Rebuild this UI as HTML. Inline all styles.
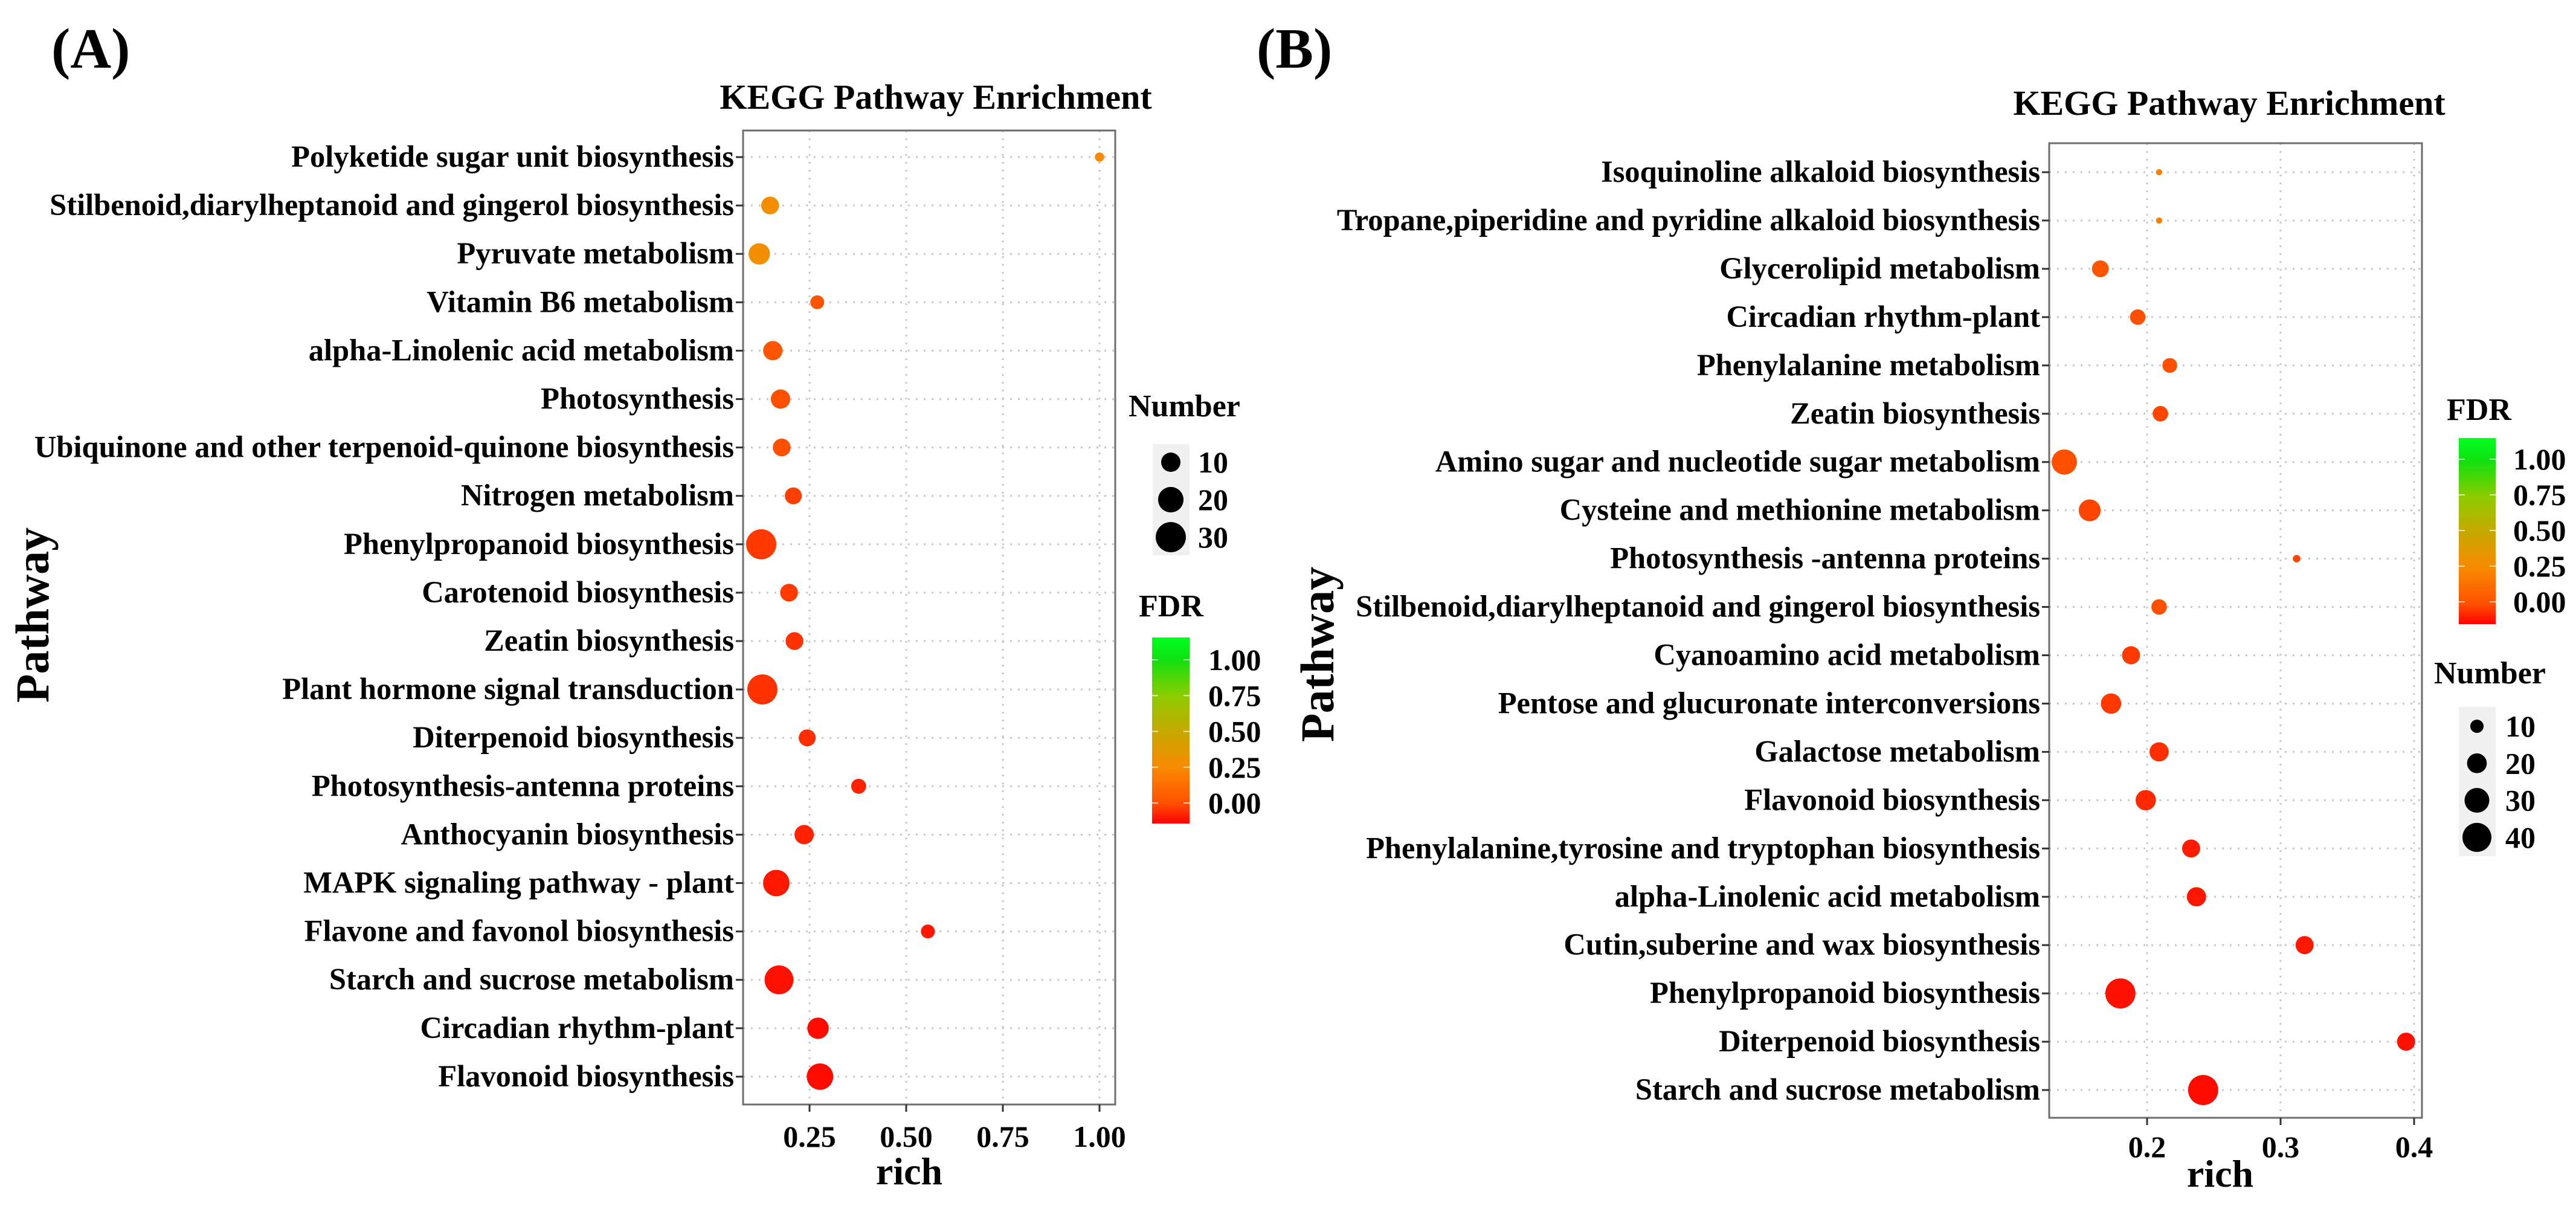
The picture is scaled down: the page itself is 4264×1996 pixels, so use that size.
<!DOCTYPE html>
<html><head><meta charset="utf-8"><style>
html,body{margin:0;padding:0;background:#fff;}
svg text{font-family:"Liberation Serif","Times New Roman",serif;font-weight:bold;fill:#000;}
</style></head><body>
<svg id="fig" xmlns="http://www.w3.org/2000/svg" width="4264" height="1991" viewBox="0 0 4264 1991">
<defs>
<linearGradient id="fdrGrad" x1="0" y1="1" x2="0" y2="0">
<stop offset="0" stop-color="#ff0000"/><stop offset="0.107" stop-color="#ff5000"/><stop offset="0.3" stop-color="#f88a00"/><stop offset="0.493" stop-color="#c8a800"/><stop offset="0.685" stop-color="#8ccc00"/><stop offset="0.88" stop-color="#10e010"/><stop offset="1" stop-color="#00ff20"/>
</linearGradient>
</defs>
<rect width="4264" height="1991" fill="#fff"/>
<text x="85" y="112" font-size="94">(A)</text>
<text x="2080" y="112" font-size="94">(B)</text>
<g id="panelA"></g>
<g id="panelB"></g>
</svg>
<script>
// ---- Panel A data ----
const catsA = ["Polyketide sugar unit biosynthesis","Stilbenoid,diarylheptanoid and gingerol biosynthesis","Pyruvate metabolism","Vitamin B6 metabolism","alpha-Linolenic acid metabolism","Photosynthesis","Ubiquinone and other terpenoid-quinone biosynthesis","Nitrogen metabolism","Phenylpropanoid biosynthesis","Carotenoid biosynthesis","Zeatin biosynthesis","Plant hormone signal transduction","Diterpenoid biosynthesis","Photosynthesis-antenna proteins","Anthocyanin biosynthesis","MAPK signaling pathway - plant","Flavone and favonol biosynthesis","Starch and sucrose metabolism","Circadian rhythm-plant","Flavonoid biosynthesis"];
const richA = [1.0,0.148,0.12,0.27,0.155,0.175,0.178,0.208,0.125,0.197,0.211,0.128,0.244,0.377,0.236,0.164,0.556,0.171,0.272,0.277];
const countA = [1,8,13,4,10,10,8,7,30,8,8,30,7,5,10,22,4,27,13,22];
const fdrA = [0.25,0.28,0.28,0.02,0.02,0.0,0.0,-0.03,-0.04,-0.04,-0.05,-0.05,-0.06,-0.08,-0.08,-0.1,-0.1,-0.11,-0.12,-0.12];
const xTicksA = [0.25,0.5,0.75,1.0];
const xTickLabelsA = ["0.25","0.50","0.75","1.00"];
const sizeKeyA = [10,20,30];
// ---- Panel B data ----
const catsB = ["Isoquinoline alkaloid biosynthesis","Tropane,piperidine and pyridine alkaloid biosynthesis","Glycerolipid metabolism","Circadian rhythm-plant","Phenylalanine metabolism","Zeatin biosynthesis","Amino sugar and nucleotide sugar metabolism","Cysteine and methionine metabolism","Photosynthesis -antenna proteins","Stilbenoid,diarylheptanoid and gingerol biosynthesis","Cyanoamino acid metabolism","Pentose and glucuronate interconversions","Galactose metabolism","Flavonoid biosynthesis","Phenylalanine,tyrosine and tryptophan biosynthesis","alpha-Linolenic acid metabolism","Cutin,suberine and wax biosynthesis","Phenylpropanoid biosynthesis","Diterpenoid biosynthesis","Starch and sucrose metabolism"];
const richB = [0.209,0.209,0.165,0.193,0.217,0.21,0.138,0.157,0.312,0.209,0.188,0.173,0.209,0.199,0.233,0.237,0.318,0.18,0.394,0.242];
const countB = [3,3,15,13,12,13,31,24,4,13,17,21,19,21,17,19,17,43,17,43];
const fdrB = [0.2,0.2,0.02,0.0,0.0,-0.02,0.0,-0.02,-0.02,0.0,-0.04,-0.04,-0.06,-0.07,-0.09,-0.1,-0.1,-0.11,-0.11,-0.12];
const xTicksB = [0.2,0.3,0.4];
const xTickLabelsB = ["0.2","0.3","0.4"];
const sizeKeyB = [10,20,30,40];
const fdrTicks = [0,0.25,0.5,0.75,1.0];
const fdrTickLabels = ["0.00","0.25","0.50","0.75","1.00"];

const NS = "http://www.w3.org/2000/svg";
function mk(parent, tag, attrs, txt){
  const e = document.createElementNS(NS, tag);
  for (const k in attrs) e.setAttribute(k, attrs[k]);
  if (txt !== undefined) e.textContent = txt;
  parent.appendChild(e); return e;
}
const stops = [[-0.14,[255,0,0]],[0,[255,80,0]],[0.25,[248,138,0]],[0.5,[200,168,0]],[0.75,[140,204,0]],[1.0,[16,224,16]],[1.15,[0,255,32]]];
function fdrColor(v){
  if (v <= stops[0][0]) return "rgb(255,0,0)";
  for (let i=1;i<stops.length;i++){
    if (v <= stops[i][0]){
      const a=stops[i-1], b=stops[i], t=(v-a[0])/(b[0]-a[0]);
      const c=a[1].map((x,j)=>Math.round(x+(b[1][j]-x)*t));
      return "rgb("+c.join(",")+")";
    }
  }
  return "rgb(0,255,32)";
}

function drawPanel(g, cfg){
  const {cats, rich, count, fdr, xTicks, xTickLabels, x0, x1, vx0, pxPerUnit, top, bottom, row0, rowStep, rFn} = cfg;
  const xs = v => x0 + (v - vx0) * pxPerUnit;
  const ys = i => row0 + i * rowStep;
  mk(g, "text", {x: cfg.titleX, y: cfg.titleY, "font-size": 58, "text-anchor": "middle",  }, "KEGG Pathway Enrichment");
  xTicks.forEach(t => {
    const l = mk(g, "line", {x1: xs(t), x2: xs(t), y1: top, y2: bottom, stroke: "#c8c8c8", "stroke-width": 3, "stroke-dasharray": "3 10"});
    
    
  });
  cats.forEach((c, i) => {
    const l = mk(g, "line", {x1: cfg.left, x2: cfg.right, y1: ys(i), y2: ys(i), stroke: "#c8c8c8", "stroke-width": 3, "stroke-dasharray": "3 10"});
    
    
  });
  const b = mk(g, "rect", {x: cfg.left, y: top, width: cfg.right - cfg.left, height: bottom - top, fill: "none", stroke: "#6e6e6e", "stroke-width": 3});
  
  
  cats.forEach((c, i) => {
    const tk = mk(g, "line", {x1: cfg.left - 12, x2: cfg.left, y1: ys(i), y2: ys(i), stroke: "#333", "stroke-width": 3});
    
    
    const t = mk(g, "text", {x: cfg.left - 15, y: ys(i) + 16, "font-size": 50.5, "text-anchor": "end"}, c);
    
    
  });
  xTicks.forEach((t, i) => {
    const tk = mk(g, "line", {x1: xs(t), x2: xs(t), y1: bottom, y2: bottom + 12, stroke: "#333", "stroke-width": 3});
    
    
    const tl = mk(g, "text", {x: xs(t), y: cfg.xLabelY, "font-size": 50, "text-anchor": "middle"}, xTickLabels[i]);
    
    
  });
  const xt = mk(g, "text", {x: cfg.xTitleX, y: cfg.xTitleY, "font-size": 64, "text-anchor": "middle"}, "rich");
  
  
  const yt = mk(g, "text", {x: 0, y: 0, "font-size": 78, "text-anchor": "middle", transform: "translate(" + cfg.yTitleX + "," + cfg.yTitleY + ") rotate(-90)"}, "Pathway");
  
  
  cats.forEach((c, i) => {
    const p = mk(g, "circle", {cx: xs(rich[i]), cy: ys(i), r: rFn(count[i]), fill: fdrColor(fdr[i])});
    
    
  });
  const L = cfg.fdrLeg;
  mk(g, "text", {x: L.titleX, y: L.titleY, "font-size": 52,  }, "FDR");
  const bar = mk(g, "rect", {x: L.x, y: L.y0, width: L.w, height: L.y1 - L.y0, fill: "url(#fdrGrad)"});
  
  
  const fy = v => L.yZero - v * L.pxUnit;
  fdrTicks.forEach((t, i) => {
    mk(g, "line", {x1: L.x, x2: L.x + 10, y1: fy(t), y2: fy(t), stroke: "#fff", "stroke-width": 2, opacity: 0.7});
    mk(g, "line", {x1: L.x + L.w - 10, x2: L.x + L.w, y1: fy(t), y2: fy(t), stroke: "#fff", "stroke-width": 2, opacity: 0.7});
    const tl = mk(g, "text", {x: L.labelX, y: fy(t) + 17, "font-size": 50}, fdrTickLabels[i]);
    
    
  });
  const S = cfg.sizeLeg;
  mk(g, "text", {x: S.titleX, y: S.titleY, "font-size": 52,  }, "Number");
  mk(g, "rect", {x: S.boxX, y: S.boxY0, width: S.boxW, height: S.boxY1 - S.boxY0, fill: "#f0f0f0",  });
  S.keys.forEach((k, i) => {
    const cy = S.y0 + i * S.step;
    const c = mk(g, "circle", {cx: S.cx, cy: cy, r: rFn(k), fill: "#000"});
    
    
    const t = mk(g, "text", {x: S.labelX, y: cy + 17, "font-size": 50}, String(k));
    
    
  });
}

drawPanel(document.getElementById("panelA"), {
  cats: catsA, rich: richA, count: countA, fdr: fdrA, xTicks: xTicksA, xTickLabels: xTickLabelsA,
  x0: 1340, vx0: 0.25, pxPerUnit: 640, left: 1230, right: 1846, top: 216, bottom: 1828,
  row0: 260, rowStep: 80.1,
  rFn: n => 3.73 + 3.88 * Math.sqrt(n),
  titleX: 1549, titleY: 180, xLabelY: 1898, xTitleX: 1505, xTitleY: 1960,
  yTitleX: 80, yTitleY: 1018,
  fdrLeg: {titleX: 1885, titleY: 1020, x: 1907, w: 62, y0: 1055, y1: 1363, yZero: 1329, pxUnit: 237, labelX: 2000},
  sizeLeg: {titleX: 1868, titleY: 689, boxX: 1908, boxY0: 735, boxW: 61, boxY1: 919, cx: 1938, y0: 765, step: 62, labelX: 1983, keys: sizeKeyA}
});
drawPanel(document.getElementById("panelB"), {
  cats: catsB, rich: richB, count: countB, fdr: fdrB, xTicks: xTicksB, xTickLabels: xTickLabelsB,
  x0: 3554, vx0: 0.2, pxPerUnit: 2210, left: 3392, right: 4009, top: 237, bottom: 1850,
  row0: 285, rowStep: 79.95,
  rFn: n => -2 + 4.11 * Math.sqrt(n),
  titleX: 3690, titleY: 190, xLabelY: 1915, xTitleX: 3675, xTitleY: 1964,
  yTitleX: 2207, yTitleY: 1083,
  fdrLeg: {titleX: 4050, titleY: 695, x: 4070, w: 61, y0: 725, y1: 1033, yZero: 996, pxUnit: 236, labelX: 4160},
  sizeLeg: {titleX: 4029, titleY: 1131, boxX: 4070, boxY0: 1170, boxW: 61, boxY1: 1417, cx: 4100, y0: 1202, step: 61.3, labelX: 4147, keys: sizeKeyB}
});
</script>
</body></html>
